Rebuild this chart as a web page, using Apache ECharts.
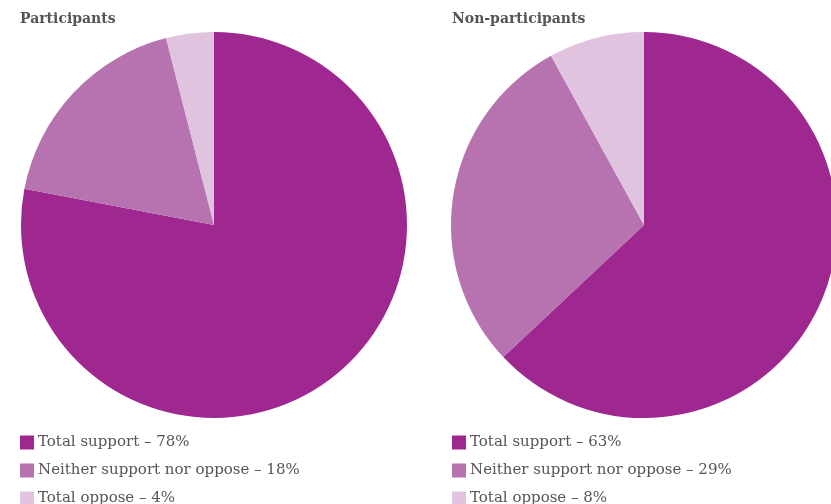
<!DOCTYPE html>
<html>
<head>
<meta charset="utf-8">
<script src="https://cdn.jsdelivr.net/npm/echarts@6/dist/echarts.min.js"></script>
<style>
  html, body { margin: 0; padding: 0; background: #fff; }
  #chart { width: 831px; height: 504px; }
</style>
</head>
<body>
<div id="chart"></div>
<script>
// Attitudes among participants and non-participants (percent)
const categories = ['Total support', 'Neither support nor oppose', 'Total oppose'];
const participants = [78, 18, 4];
const nonParticipants = [63, 29, 8];
const panelTitles = ['Participants', 'Non-participants'];
const colors = ['#9e2790', '#b673b0', '#dfc3df'];

const FONT = '"DejaVu Serif", "Liberation Serif", serif';

function labelled(values) {
  return categories.map((c, i) => ({
    name: c + ' \u2013 ' + values[i] + '%',
    value: values[i],
    itemStyle: { color: colors[i] }
  }));
}

const leftData = labelled(participants);
const rightData = labelled(nonParticipants);

const chart = echarts.init(document.getElementById('chart'), null, { renderer: 'canvas' });

const legendBase = {
  type: 'plain',
  orient: 'vertical',
  icon: 'rect',
  itemWidth: 14,
  itemHeight: 14,
  itemGap: 13,
  height: 150,
  selectedMode: false,
  textStyle: { fontFamily: FONT, fontSize: 15, color: '#555555', padding: [0, 0, 0, -1] },
  padding: 0
};

const titleStyle = { fontFamily: FONT, fontWeight: 'bold', fontSize: 14, color: '#555555' };

chart.setOption({
  animation: false,
  title: [
    { text: panelTitles[0], left: 20, top: 12, padding: 0, textStyle: titleStyle },
    { text: panelTitles[1], left: 452, top: 12, padding: 0, textStyle: titleStyle }
  ],
  legend: [
    Object.assign({}, legendBase, { left: 20, top: 435, width: 400, data: leftData.map(d => d.name) }),
    Object.assign({}, legendBase, { left: 452, top: 435, width: 370, data: rightData.map(d => d.name) })
  ],
  series: [
    {
      type: 'pie',
      center: [214, 225],
      radius: [0, 193],
      startAngle: 90,
      clockwise: true,
      label: { show: false },
      labelLine: { show: false },
      emphasis: { disabled: true },
      itemStyle: { borderWidth: 0 },
      data: leftData
    },
    {
      type: 'pie',
      center: [644, 225],
      radius: [0, 193],
      startAngle: 90,
      clockwise: true,
      label: { show: false },
      labelLine: { show: false },
      emphasis: { disabled: true },
      itemStyle: { borderWidth: 0 },
      data: rightData
    }
  ]
});
</script>
</body>
</html>
